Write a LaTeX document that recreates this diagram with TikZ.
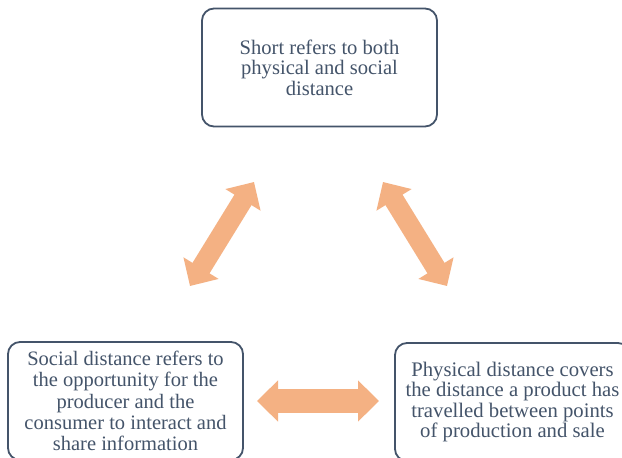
\documentclass[tikz,border=0pt]{standalone}
\usepackage{fontspec}
\setmainfont{Liberation Serif}
\usetikzlibrary{arrows.meta}
\definecolor{slate}{HTML}{44546A}
\definecolor{peach}{HTML}{F4B183}
\tikzset{
  infobox/.style={draw=slate, line width=1.8pt, rounded corners=12pt, fill=white,
    minimum width=235pt, minimum height=118pt, align=center, text=slate,
    font=\fontsize{20.6}{20.5}\selectfont, inner sep=0pt},
  dblarrow/.style={draw=peach, line width=#1,
    {Triangle[length=21pt,width=40pt]}-{Triangle[length=21pt,width=40pt]}},
}
\begin{document}
\begin{tikzpicture}[x=1pt,y=-1pt]
\useasboundingbox (0,0) rectangle (622,458);
\clip (0,0) rectangle (622,458);
\fill[white] (0,0) rectangle (622,458);
\node[infobox] (top) at (319.5,67.5) {Short refers to both\\physical and social\\distance};
\node[infobox, font=\fontsize{20.5}{21.2}\selectfont] (social) at (125.5,401) {Social distance refers to\\the opportunity for the\\producer and the\\consumer to interact and\\share information};
\node[infobox, font=\fontsize{20.7}{20.5}\selectfont] (phys) at (512.5,402) {Physical distance covers\\the distance a product has\\travelled between points\\of production and sale};
\coordinate (l1) at (190,286);
\coordinate (l2) at (254,182);
\coordinate (r1) at (383,182);
\coordinate (r2) at (447,286);
\coordinate (h1) at (257,401);
\coordinate (h2) at (379,401);
\draw[dblarrow=20pt] (l1) -- (l2);
\draw[dblarrow=20pt] (r1) -- (r2);
\draw[dblarrow=24pt] (h1) -- (h2);
\end{tikzpicture}
\end{document}
